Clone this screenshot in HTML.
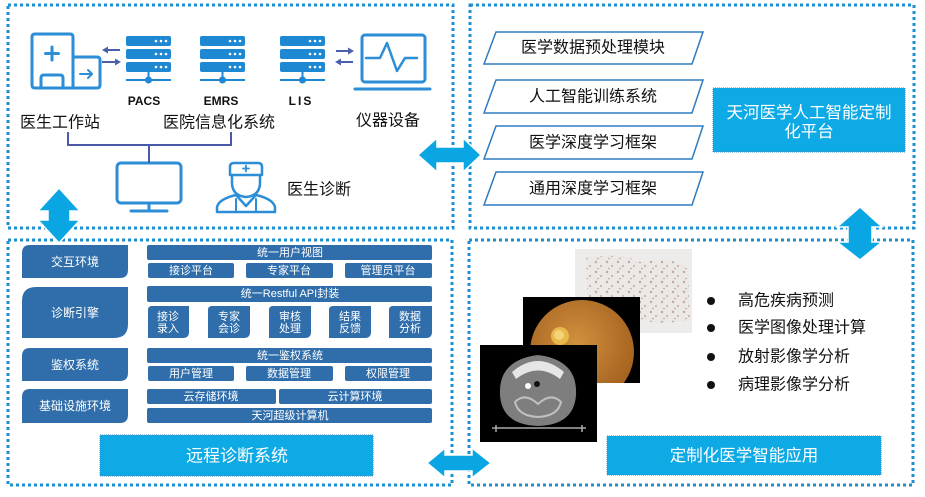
<!DOCTYPE html>
<html><head><meta charset="utf-8">
<style>
html,body{margin:0;padding:0;background:#fff;}
svg{display:block;}
text{font-family:"Liberation Sans","Noto Sans CJK SC","WenQuanYi Zen Hei",sans-serif;}
</style></head>
<body>
<svg width="925" height="497" viewBox="0 0 925 497" xmlns="http://www.w3.org/2000/svg">
<rect width="925" height="497" fill="#fff"/>

<!-- dotted panels -->
<g fill="none" stroke="#1b8fd2" stroke-width="3" stroke-dasharray="3 3">
  <rect x="8" y="5" width="445" height="223"/>
  <rect x="470" y="5" width="444" height="223"/>
  <rect x="8" y="240" width="444" height="245"/>
  <rect x="469" y="240" width="444" height="245"/>
</g>

<!-- ========== TOP LEFT ========== -->
<g fill="none" stroke="#2b8ed6" stroke-width="3" stroke-linejoin="round" stroke-linecap="round">
  <path d="M73,57 L73,37 Q73,34 70,34 L35,34 Q32,34 32,37 L32,85 Q32,88 35,88 L97,88 Q100,88 100,85 L100,60 Q100,57 97,57 Z"/>
  <line x1="73" y1="57" x2="73" y2="88"/>
  <path d="M41,88 L41,78 Q41,75 44,75 L60,75 Q63,75 63,78 L63,88"/>
  <line x1="52" y1="47" x2="52" y2="60"/>
  <line x1="45.5" y1="53.5" x2="58.5" y2="53.5"/>
  <line x1="80" y1="74" x2="92" y2="74" stroke-width="2"/>
  <path d="M88,70 L92,74 L88,78" stroke-width="2"/>
  <rect x="362" y="35" width="63" height="47" rx="3"/>
  <line x1="355" y1="89" x2="430" y2="89"/>
  <polyline points="366,58 380,58 387,43 397,71 405,58 417,58" stroke-width="2.5"/>
  <rect x="117" y="163" width="64" height="40" rx="4"/>
  <line x1="149" y1="203" x2="149" y2="210"/>
  <line x1="131" y1="211" x2="167" y2="211"/>
  <path d="M230,175 L230,167 Q230,163 234,163 L258,163 Q262,163 262,167 L262,175 Z" stroke-width="2.5"/>
  <line x1="246" y1="165.5" x2="246" y2="171.5" stroke-width="1.8"/>
  <line x1="243" y1="168.5" x2="249" y2="168.5" stroke-width="1.8"/>
  <path d="M232,175 L232,184 Q233,196 246,197 Q259,196 260,184 L260,175" stroke-width="2.5"/>
  <path d="M217,212 L217,207 Q219,199 236,195 L246,206 L256,195 Q273,199 275,207 L275,212 Z" stroke-width="2.5"/>
  <line x1="236" y1="199" x2="236" y2="212" stroke-width="2"/>
  <line x1="256" y1="199" x2="256" y2="212" stroke-width="2"/>
</g>

<!-- servers -->
<g fill="#1e88d2">
  <rect x="126" y="36" width="45" height="10" rx="2"/>
  <rect x="126" y="49" width="45" height="10" rx="2"/>
  <rect x="126" y="62" width="45" height="10" rx="2"/>
  <rect x="200" y="36" width="45" height="10" rx="2"/>
  <rect x="200" y="49" width="45" height="10" rx="2"/>
  <rect x="200" y="62" width="45" height="10" rx="2"/>
  <rect x="280" y="36" width="45" height="10" rx="2"/>
  <rect x="280" y="49" width="45" height="10" rx="2"/>
  <rect x="280" y="62" width="45" height="10" rx="2"/>
  <circle cx="148.5" cy="80" r="3.5"/>
  <circle cx="222.5" cy="80" r="3.5"/>
  <circle cx="302.5" cy="80" r="3.5"/>
</g>
<g stroke="#1e88d2" stroke-width="2">
  <line x1="148.5" y1="72" x2="148.5" y2="80"/><line x1="126" y1="80" x2="171" y2="80"/>
  <line x1="222.5" y1="72" x2="222.5" y2="80"/><line x1="200" y1="80" x2="245" y2="80"/>
  <line x1="302.5" y1="72" x2="302.5" y2="80"/><line x1="280" y1="80" x2="325" y2="80"/>
</g>
<g fill="#fff">
  <circle cx="156" cy="41" r="1.3"/><circle cx="161" cy="41" r="1.3"/><circle cx="166" cy="41" r="1.3"/>
  <circle cx="156" cy="54" r="1.3"/><circle cx="161" cy="54" r="1.3"/><circle cx="166" cy="54" r="1.3"/>
  <circle cx="156" cy="67" r="1.3"/><circle cx="161" cy="67" r="1.3"/><circle cx="166" cy="67" r="1.3"/>
  <circle cx="230" cy="41" r="1.3"/><circle cx="235" cy="41" r="1.3"/><circle cx="240" cy="41" r="1.3"/>
  <circle cx="230" cy="54" r="1.3"/><circle cx="235" cy="54" r="1.3"/><circle cx="240" cy="54" r="1.3"/>
  <circle cx="230" cy="67" r="1.3"/><circle cx="235" cy="67" r="1.3"/><circle cx="240" cy="67" r="1.3"/>
  <circle cx="310" cy="41" r="1.3"/><circle cx="315" cy="41" r="1.3"/><circle cx="320" cy="41" r="1.3"/>
  <circle cx="310" cy="54" r="1.3"/><circle cx="315" cy="54" r="1.3"/><circle cx="320" cy="54" r="1.3"/>
  <circle cx="310" cy="67" r="1.3"/><circle cx="315" cy="67" r="1.3"/><circle cx="320" cy="67" r="1.3"/>
</g>

<g stroke="#4b5fae" stroke-width="2" fill="#4b5fae">
  <line x1="106" y1="50" x2="120" y2="50"/><polygon points="102,50 108,46.5 108,53.5" stroke="none"/>
  <line x1="102" y1="62" x2="116" y2="62"/><polygon points="121,62 115,58.5 115,65.5" stroke="none"/>
  <line x1="336" y1="51" x2="349" y2="51"/><polygon points="354,51 348,47.5 348,54.5" stroke="none"/>
  <line x1="340" y1="62" x2="353" y2="62"/><polygon points="335,62 341,58.5 341,65.5" stroke="none"/>
</g>

<g stroke="#4a5aa8" stroke-width="2" fill="none">
  <polyline points="68,132 68,145 231,145 231,132"/>
  <line x1="149" y1="145" x2="149" y2="163"/>
</g>

<g fill="#111" font-size="12" text-anchor="middle" font-weight="bold">
  <text x="144" y="105">PACS</text>
  <text x="221" y="105">EMRS</text>
  <text x="301" y="105" letter-spacing="2">LIS</text>
</g>
<g fill="#111" font-size="16" dominant-baseline="central">
  <text x="20" y="123">医生工作站</text>
  <text x="163" y="123">医院信息化系统</text>
  <text x="356" y="121">仪器设备</text>
  <text x="287" y="190">医生诊断</text>
</g>

<!-- ========== TOP RIGHT ========== -->
<g fill="#fff" stroke="#2f7bc0" stroke-width="1.5">
  <polygon points="496,32 703,32 692,64 484,64"/>
  <polygon points="496,80 703,80 692,113 484,113"/>
  <polygon points="496,126 703,126 692,159 484,159"/>
  <polygon points="496,172 703,172 692,205 484,205"/>
</g>
<g fill="#111" font-size="16" text-anchor="middle" dominant-baseline="central">
  <text x="593" y="48">医学数据预处理模块</text>
  <text x="593" y="97">人工智能训练系统</text>
  <text x="593" y="143">医学深度学习框架</text>
  <text x="593" y="189">通用深度学习框架</text>
</g>
<rect x="713" y="88" width="192" height="64" fill="#0eaae6" stroke="#3c8fc6" stroke-width="1" stroke-dasharray="1 1"/>
<g fill="#fff" font-size="16.5" text-anchor="middle" dominant-baseline="central">
  <text x="809" y="113">天河医学人工智能定制</text>
  <text x="809" y="132">化平台</text>
</g>

<!-- ========== BOTTOM LEFT ========== -->
<g fill="#2f6eab">
  <path d="M30,245 L128,245 L128,270 Q128,278 120,278 L22,278 L22,253 Q22,245 30,245 Z"/>
  <path d="M36,287 L128,287 L128,324 Q128,338 114,338 L22,338 L22,301 Q22,287 36,287 Z"/>
  <path d="M30,348 L128,348 L128,373 Q128,381 120,381 L22,381 L22,356 Q22,348 30,348 Z"/>
  <path d="M30,389 L128,389 L128,415 Q128,423 120,423 L22,423 L22,397 Q22,389 30,389 Z"/>

  <rect x="147" y="245" width="285" height="15" rx="2"/>
  <rect x="148" y="263" width="86" height="15" rx="2"/>
  <rect x="246" y="263" width="87" height="15" rx="2"/>
  <rect x="345" y="263" width="87" height="15" rx="2"/>
  <rect x="147" y="286" width="285" height="16" rx="2"/>

  <path d="M152,306 L189,306 L189,332 Q189,338 183,338 L148,338 L148,310 Q148,306 152,306 Z"/>
  <path d="M212,306 L250,306 L250,332 Q250,338 244,338 L208,338 L208,310 Q208,306 212,306 Z"/>
  <path d="M273,306 L311,306 L311,332 Q311,338 305,338 L269,338 L269,310 Q269,306 273,306 Z"/>
  <path d="M333,306 L371,306 L371,332 Q371,338 365,338 L329,338 L329,310 Q329,306 333,306 Z"/>
  <path d="M393,306 L432,306 L432,332 Q432,338 426,338 L389,338 L389,310 Q389,306 393,306 Z"/>

  <rect x="147" y="348" width="285" height="15" rx="2"/>
  <rect x="148" y="366" width="86" height="15" rx="2"/>
  <rect x="246" y="366" width="87" height="15" rx="2"/>
  <rect x="345" y="366" width="87" height="15" rx="2"/>
  <rect x="147" y="389" width="129" height="15" rx="2"/>
  <rect x="279" y="389" width="153" height="15" rx="2"/>
  <rect x="147" y="408" width="285" height="15" rx="2"/>
</g>
<g fill="#fff" font-size="12" text-anchor="middle" dominant-baseline="central">
  <text x="75" y="262">交互环境</text>
  <text x="75" y="313">诊断引擎</text>
  <text x="75" y="365">鉴权系统</text>
  <text x="75" y="406">基础设施环境</text>
</g>
<g fill="#fff" font-size="11" text-anchor="middle" dominant-baseline="central">
  <text x="290" y="253">统一用户视图</text>
  <text x="191" y="271">接诊平台</text>
  <text x="289" y="271">专家平台</text>
  <text x="388" y="271">管理员平台</text>
  <text x="290" y="294">统一Restful API封装</text>
  <text x="168" y="317">接诊</text><text x="168" y="329">录入</text>
  <text x="229" y="317">专家</text><text x="229" y="329">会诊</text>
  <text x="290" y="317">审核</text><text x="290" y="329">处理</text>
  <text x="350" y="317">结果</text><text x="350" y="329">反馈</text>
  <text x="410" y="317">数据</text><text x="410" y="329">分析</text>
  <text x="290" y="356">统一鉴权系统</text>
  <text x="191" y="374">用户管理</text>
  <text x="289" y="374">数据管理</text>
  <text x="388" y="374">权限管理</text>
  <text x="211" y="397">云存储环境</text>
  <text x="355" y="397">云计算环境</text>
  <text x="290" y="416">天河超级计算机</text>
</g>
<rect x="100" y="435" width="273" height="41" fill="#0eaae6" stroke="#3c8fc6" stroke-width="1" stroke-dasharray="1 1"/>
<text x="237" y="456" fill="#fff" font-size="17" text-anchor="middle" dominant-baseline="central">远程诊断系统</text>

<!-- ========== BOTTOM RIGHT ========== -->
<defs>
  <pattern id="pth" width="11" height="10" patternUnits="userSpaceOnUse">
    <rect width="11" height="10" fill="#ebe8e6"/>
    <circle cx="2" cy="2" r="1.2" fill="#c4a89a"/>
    <circle cx="7" cy="6" r="1.1" fill="#cdb4a6"/>
    <circle cx="4" cy="8.5" r="0.8" fill="#b89a8c"/>
  </pattern>
  <clipPath id="fclip"><rect x="523" y="297" width="117" height="86"/></clipPath>
  <radialGradient id="fund" cx="0.45" cy="0.4" r="0.6">
    <stop offset="0" stop-color="#d0903e"/>
    <stop offset="1" stop-color="#a4621f"/>
  </radialGradient>
</defs>
<rect x="575" y="249" width="117" height="84" fill="#eeecea"/>
<path d="M586,258 Q620,252 640,262 Q680,256 688,270 L690,320 Q660,326 630,318 Q600,324 588,312 Z" fill="url(#pth)"/>

<rect x="523" y="297" width="117" height="86" fill="#000"/>
<g clip-path="url(#fclip)">
  <circle cx="582" cy="352" r="52" fill="url(#fund)"/>
  <circle cx="560" cy="336" r="9" fill="#e8b84a"/>
  <circle cx="559" cy="335" r="5" fill="#f3d27a"/>
</g>

<rect x="480" y="345" width="117" height="97" fill="#000"/>
<path d="M500,395 Q498,360 538,355 Q578,360 576,395 Q574,425 538,426 Q502,425 500,395 Z" fill="#7e7e7e"/>
<path d="M512,372 Q538,350 564,372 L560,379 Q538,362 516,379 Z" fill="#e6e6e6"/>
<circle cx="528" cy="386" r="3" fill="#fff"/>
<circle cx="537" cy="384" r="3" fill="#111"/>
<path d="M515,402 Q525,392 538,404 Q551,392 561,402 Q558,416 538,417 Q518,416 515,402 Z" fill="none" stroke="#c0c0c0" stroke-width="2"/>
<path d="M492,428 L586,428 M496,425 L496,432 M582,425 L582,432" stroke="#aaa" stroke-width="1.5" fill="none"/>

<g fill="#111">
  <circle cx="711" cy="301" r="4"/>
  <circle cx="711" cy="328" r="4"/>
  <circle cx="711" cy="357" r="4"/>
  <circle cx="711" cy="385" r="4"/>
</g>
<g fill="#111" font-size="16" dominant-baseline="central">
  <text x="738" y="301">高危疾病预测</text>
  <text x="738" y="328">医学图像处理计算</text>
  <text x="738" y="357">放射影像学分析</text>
  <text x="738" y="385">病理影像学分析</text>
</g>
<rect x="607" y="436" width="274" height="39" fill="#0eaae6" stroke="#3c8fc6" stroke-width="1" stroke-dasharray="1 1"/>
<text x="744" y="456" fill="#fff" font-size="16.5" text-anchor="middle" dominant-baseline="central">定制化医学智能应用</text>

<!-- ========== BIG ARROWS ========== -->
<g fill="#0aa6e4" stroke="#fff" stroke-width="1.5" stroke-linejoin="miter">
  <polygon points="418,155 437,138 437,147 463,147 463,138 481,155 463,172 463,163 437,163 437,172"/>
  <polygon points="59,188 80,211 70,211 70,220 80,220 59,243 38,220 48,220 48,211 38,211"/>
  <polygon points="427,463 445,448 445,455 472,455 472,448 491,463 472,478 472,471 445,471 445,478"/>
  <polygon points="860,207 882,227 872,227 872,242 882,242 860,260 837,242 848,242 848,227 837,227"/>
</g>
</svg>
</body></html>
